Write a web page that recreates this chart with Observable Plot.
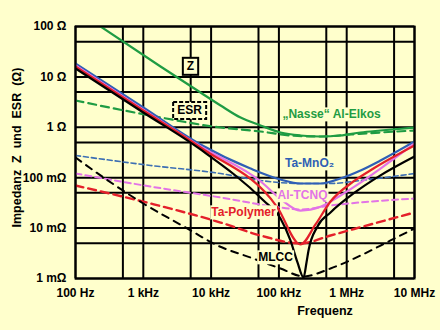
<!DOCTYPE html>
<html><head><meta charset="utf-8">
<script src="https://cdn.jsdelivr.net/npm/d3@7"></script>
<script src="https://cdn.jsdelivr.net/npm/@observablehq/plot@0.6"></script>
<style>
html,body{margin:0;padding:0;background:#ffffcc;}
</style></head><body><div id="chart"></div>
<script>
// Axis ticks and labels
const xTicks = [100, 1e3, 1e4, 1e5, 1e6, 1e7];
const xTickLabels = ["100 Hz", "1 kHz", "10 kHz", "100 kHz", "1 MHz", "10 MHz"];
const yTicks = [100, 10, 1, 0.1, 0.01, 0.001];
const yTickLabels = ["100 Ω", "10 Ω", "1 Ω", "100 mΩ", "10 mΩ", "1 mΩ"];
const xGrid = [100, 500, 1e3, 5e3, 1e4, 5e4, 1e5, 5e5, 1e6, 5e6, 1e7];
const yGrid = [0.001, 0.005, 0.01, 0.05, 0.1, 0.5, 1, 5, 10, 50, 100];

// Series: [frequency Hz, value Ω]
const elkoZ = [[234,100],[1795,16.1],[6980,4.9],[13800,2.71],[27200,1.56],[53600,1.09],[105600,0.789],[208000,0.688],[411000,0.657],[810000,0.688],[1.6e6,0.789],[3.15e6,0.864],[1e7,0.99]];
const elkoESR = [[100,3.4],[1277,1.71],[13800,0.99],[53600,0.826],[148000,0.688],[411000,0.657],[1.14e6,0.72],[3.15e6,0.789],[1e7,0.864]];
const mno2Z = [[100,18.5],[1000,2.47],[6980,0.456],[38100,0.152],[105600,0.0921],[208000,0.0767],[411000,0.0767],[810000,0.0964],[1.6e6,0.139],[3.15e6,0.219],[1e7,0.522]];
const mno2ESR = [[100,0.276],[1277,0.175],[13800,0.121],[53600,0.088],[208000,0.0767],[577000,0.0767],[1.6e6,0.088],[1e7,0.121]];
const tcnqZ = [[100,16.8],[1000,2.25],[6980,0.416],[53600,0.085],[105600,0.038],[208000,0.0223],[411000,0.0265],[810000,0.0444],[1.6e6,0.08],[3.15e6,0.152],[1e7,0.477]];
const tcnqESR = [[100,0.121],[1277,0.0668],[13800,0.0405],[105600,0.0256],[208000,0.0234],[577000,0.0281],[1e7,0.0387]];
const polyZ = [[100,16.1],[1000,2.15],[6980,0.397],[95300,0.0256],[208000,0.00473],[346700,0.0118],[577000,0.0337],[1.26e6,0.0841],[2.48e6,0.152],[1e7,0.435]];
const polyESR = [[100,0.07],[1277,0.0308],[13800,0.0129],[53600,0.00713],[208000,0.00495],[577000,0.00713],[2.24e6,0.0118],[1e7,0.0204]];
const mlccZ = [[100,14.7],[1000,1.97],[6980,0.363],[59300,0.0353],[105600,0.0155],[148000,0.00568],[188000,0.00208],[230700,0.00105],[255300,0.00208],[273400,0.0036],[370700,0.0108],[577000,0.0204],[1.26e6,0.0486],[3.15e6,0.111],[1e7,0.263]];
const mlccESR = [[100,0.252],[234,0.111],[1000,0.0308],[4480,0.0098],[12400,0.00452],[38100,0.00261],[105600,0.00158],[230700,0.0011],[577000,0.00158],[1.6e6,0.00286],[4.43e6,0.00568],[1e7,0.0098]];

// Curve labels
const seriesLabels = ["„Nasse“ Al-Elkos", "Ta-MnO₂", "Al-TCNQ", "Ta-Polymer", "MLCC"];
const labelFreq = [597000, 282800, 222800, 30000, 89100];
const labelValue = [1.79, 0.191, 0.0444, 0.0204, 0.00261];
const keyLabels = ["Z", "ESR"];
const keyFreq = [4970, 4800];
const keyValue = [16.1, 2.15];

const C = {green:"#1f9c43", blue:"#2f5fb5", blueDash:"#3d6fb3", pink:"#e274e6", red:"#e4202a", black:"#000"};

const xLab = new Map(xTicks.map((t,i)=>[t, xTickLabels[i]]));
const yLab = new Map(yTicks.map((t,i)=>[t, yTickLabels[i]]));
const pos = {x: d=>d[0], y: d=>d[1], curve: "monotone-x"};

const labels = seriesLabels.map((t,i)=>({t, f: labelFreq[i], v: labelValue[i]}));
const keys = keyLabels.map((t,i)=>({t, f: keyFreq[i], v: keyValue[i]}));
const labelColors = [C.green, C.blue, C.pink, C.red, C.black];

const svg = Plot.plot({
  width: 440, height: 330,
  marginLeft: 75, marginRight: 26, marginTop: 26, marginBottom: 52,
  style: {background: "#ffffcc", fontFamily: "'Liberation Sans', Arial, sans-serif", fontWeight: "bold", color: "black", overflow: "visible"},
  x: {type: "log", domain: [100, 1e7]},
  y: {type: "log", domain: [0.001, 100]},
  marks: [
    Plot.ruleX(xGrid, {stroke: "black", strokeWidth: 2}),
    Plot.ruleY(yGrid, {stroke: "black", strokeWidth: 2}),
    Plot.line(elkoESR, {...pos, stroke: C.green, strokeWidth: 2.2, strokeDasharray: "8,5", clip: true}),
    Plot.line(mno2ESR, {...pos, stroke: C.blueDash, strokeWidth: 1.6, strokeDasharray: "5,3", clip: true}),
    Plot.line(tcnqESR, {...pos, stroke: C.pink, strokeWidth: 2, strokeDasharray: "6,4", clip: true}),
    Plot.line(polyESR, {...pos, stroke: C.red, strokeWidth: 2.4, strokeDasharray: "8,5", clip: true}),
    Plot.line(mlccESR, {...pos, stroke: C.black, strokeWidth: 2, strokeDasharray: "7,6", clip: true}),
    Plot.line(elkoZ, {...pos, stroke: C.green, strokeWidth: 2.2, clip: true}),
    Plot.line(mno2Z, {...pos, stroke: C.blue, strokeWidth: 2.2, clip: true}),
    Plot.line(tcnqZ, {...pos, stroke: C.pink, strokeWidth: 2.2, clip: true}),
    Plot.line(polyZ, {...pos, stroke: C.red, strokeWidth: 2.2, clip: true}),
    Plot.line(mlccZ, {...pos, stroke: C.black, strokeWidth: 2.2, clip: true}),
    Plot.frame({stroke: "black", strokeWidth: 2}),
    Plot.text(labels, {x: "f", y: "v", text: "t", fill: (d,i)=>labelColors[i], fontSize: 12, fontWeight: "bold", className: "serieslabel"}),
    Plot.text(keys, {x: "f", y: "v", text: "t", fill: "black", fontSize: 12, fontWeight: "bold", className: "keylabel"}),
    Plot.axisX(xTicks, {tickFormat: d=>xLab.get(d), tickSize: 0, tickPadding: 10, fontSize: 12, fontWeight: "bold", label: null}),
    Plot.axisY(yTicks, {tickFormat: d=>yLab.get(d), tickSize: 0, tickPadding: 9, fontSize: 12, fontWeight: "bold", label: null}),
    Plot.text(["Impedanz\u00a0 Z\u00a0 und\u00a0 ESR\u00a0 (Ω)"], {frameAnchor: "left", textAnchor: "middle", lineAnchor: "middle", dx: -59, dy: -5, rotate: -90, fontSize: 12.5, fontWeight: "bold"}),
    Plot.text(["Frequenz"], {frameAnchor: "bottom", textAnchor: "middle", lineAnchor: "middle", dx: 80, dy: 32, fontSize: 12.5, fontWeight: "bold"})
  ]
});
document.getElementById("chart").appendChild(svg);

// Background boxes behind labels (sized from the text itself); "Z" solid frame, "ESR" dashed frame
function boxes(sel, framed) {
  d3.select(svg).selectAll(sel + " text").each(function() {
    const b = this.getBBox();
    const px = framed ? 4 : 1, py = framed ? 1.5 : 0;
    const r = document.createElementNS("http://www.w3.org/2000/svg", "rect");
    r.setAttribute("x", b.x - px);
    r.setAttribute("y", b.y - py);
    r.setAttribute("width", b.width + 2 * px);
    r.setAttribute("height", b.height + 2 * py);
    r.setAttribute("fill", "#ffffcc");
    if (framed) {
      r.setAttribute("stroke", "black");
      r.setAttribute("stroke-width", 2);
      if (this.textContent === "ESR") r.setAttribute("stroke-dasharray", "4,2");
    }
    const tr = this.getAttribute("transform");
    if (tr) r.setAttribute("transform", tr);
    this.parentNode.insertBefore(r, this);
  });
}
boxes(".serieslabel", false);
boxes(".keylabel", true);
</script></body></html>
